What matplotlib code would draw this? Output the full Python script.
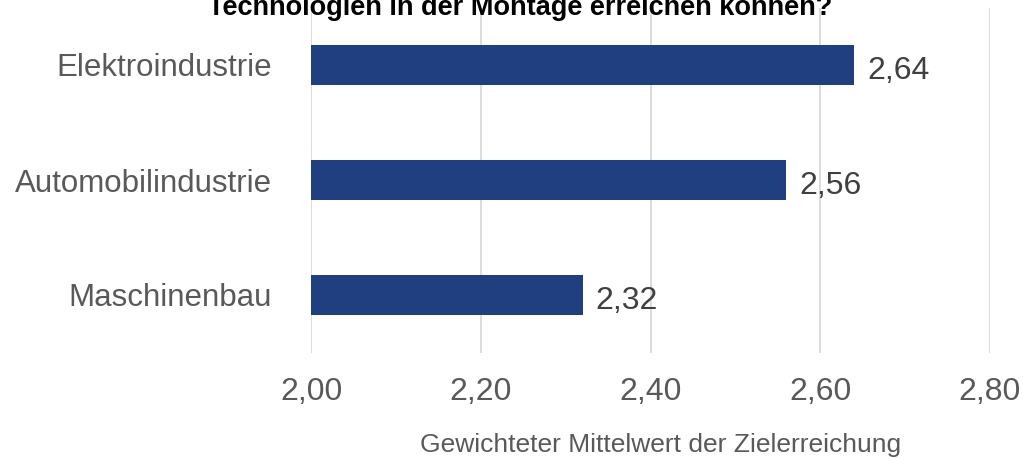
import matplotlib
matplotlib.use("Agg")
import matplotlib.pyplot as plt

plt.rcParams["font.family"] = ["Liberation Sans", "DejaVu Sans"]

categories = ["Maschinenbau", "Automobilindustrie", "Elektroindustrie"]
values = [2.32, 2.56, 2.64]
xticks = [2.00, 2.20, 2.40, 2.60, 2.80]
title = "Technologien in der Montage erreichen können?"
xlabel = "Gewichteter Mittelwert der Zielerreichung"

BAR = "#1F3F80"
TXT = "#595959"
GRID = "#D9D9D9"

W, H = 1023, 459
fig = plt.figure(figsize=(W / 100, H / 100), dpi=100)
ax = fig.add_axes([311 / W, 1 - 352.5 / H, (990 - 311) / W, 345 / H])

ypos = list(range(len(categories)))
ax.barh(ypos, values, height=0.35, color=BAR, zorder=3)
for y, v in zip(ypos, values):
    ax.text(v + 0.015, y - 0.02, f"{v:.2f}".replace(".", ","), va="center_baseline",
            ha="left", fontsize=23, color="#404040")

ax.set_xlim(2.0, 2.8)
ax.set_ylim(-0.5, 2.5)
ax.set_xticks(xticks)
ax.set_xticklabels([f"{t:.2f}".replace(".", ",") for t in xticks])
ax.set_yticks(ypos)
ax.set_yticklabels(categories)
ax.tick_params(axis="x", length=0, pad=18, labelsize=23, labelcolor=TXT)
ax.tick_params(axis="y", length=0, pad=28, labelsize=22.5, labelcolor=TXT)
ax.grid(axis="x", color=GRID, linewidth=1.3, zorder=0)
for s in ax.spines.values():
    s.set_visible(False)

fig.text(661 / W, 1 - 452 / H, xlabel, ha="center", va="baseline",
         fontsize=19, color=TXT)
# title is clipped at the top edge in the original as well
fig.text(520 / W, 1 - 15 / H, title, ha="center", va="baseline",
         fontsize=19.5, fontweight="bold", color="black")

fig.savefig("out.png", dpi=100)
